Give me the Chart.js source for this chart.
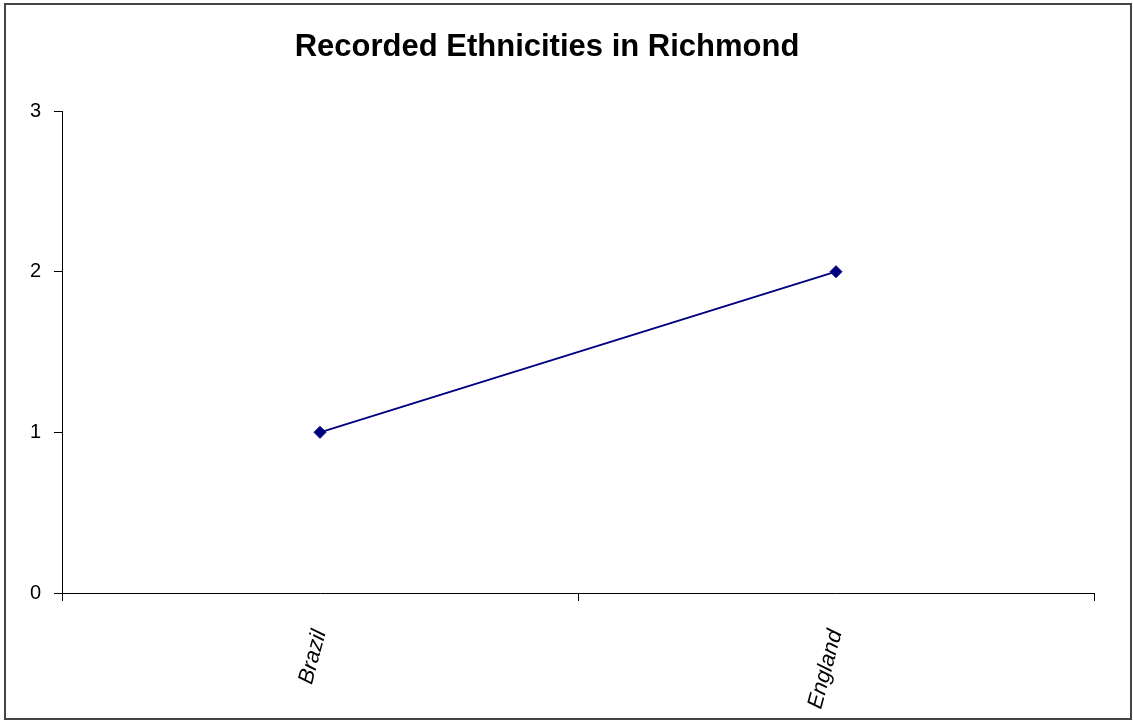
<!DOCTYPE html>
<html>
<head>
<meta charset="utf-8">
<script src="https://cdn.jsdelivr.net/npm/chart.js@4/dist/chart.umd.min.js"></script>
<style>
    html, body { margin: 0; padding: 0; background: #fff; }
    .chart-wrap { position: relative; width: 1133px; height: 721px; }
</style>
</head>
<body>
<div class="chart-wrap"><canvas id="chart"></canvas></div>
<script>
    // Data
    let categories = ["Brazil", "England"];
    let counts = [1, 2];
    let yMin = 0;
    let yMax = 3;
    let yStep = 1;

    let fontFamily = "'Liberation Sans', Arial, sans-serif";

    // Outer frame round the whole picture
    let framePlugin = {
        id: "frame",
        afterDraw: function (chart) {
            let ctx = chart.ctx;
            ctx.save();
            ctx.strokeStyle = "#444444";
            ctx.lineWidth = 2;
            ctx.strokeRect(5, 4, chart.width - 7, chart.height - 6);
            ctx.restore();
        }
    };

    new Chart(document.getElementById("chart").getContext("2d"), {
        type: "line",
        data: {
            labels: categories,
            datasets: [{
                label: "Recorded",
                data: counts,
                borderColor: "#000080",
                backgroundColor: "#000080",
                borderWidth: 2,
                pointStyle: "rectRot",
                pointRadius: 6,
                pointBorderWidth: 1,
                tension: 0,
                fill: false
            }]
        },
        options: {
            responsive: true,
            maintainAspectRatio: false,
            animation: false,
            layout: {
                padding: { left: 0, right: 39, top: 0, bottom: 0 }
            },
            plugins: {
                legend: { display: false },
                tooltip: { enabled: false },
                title: {
                    display: true,
                    text: "Recorded Ethnicities in Richmond",
                    color: "#000",
                    font: { family: fontFamily, size: 31, weight: "bold", lineHeight: 1.2 },
                    padding: { top: 29, bottom: 44.8 }
                }
            },
            scales: {
                x: {
                    offset: true,
                    grid: {
                        offset: true,
                        drawOnChartArea: false,
                        drawTicks: true,
                        tickLength: 8,
                        color: "#000"
                    },
                    border: { display: true, color: "#000", width: 1 },
                    ticks: {
                        color: "#000",
                        font: { family: fontFamily, size: 22, style: "italic" },
                        minRotation: 75,
                        maxRotation: 75,
                        padding: 26
                    },
                    afterFit: function (scale) {
                        scale.height = 128;
                        scale.paddingLeft = 0;
                        scale.paddingRight = 0;
                    }
                },
                y: {
                    min: yMin,
                    max: yMax,
                    grid: {
                        drawOnChartArea: false,
                        drawTicks: true,
                        tickLength: 8,
                        color: "#000"
                    },
                    border: { display: true, color: "#000", width: 1 },
                    ticks: {
                        stepSize: yStep,
                        color: "#000",
                        font: { family: fontFamily, size: 20 },
                        padding: 13
                    },
                    afterFit: function (scale) {
                        scale.width = 62;
                        scale.paddingTop = 0;
                        scale.paddingBottom = 0;
                    }
                }
            }
        },
        plugins: [framePlugin]
    });
</script>
</body>
</html>
